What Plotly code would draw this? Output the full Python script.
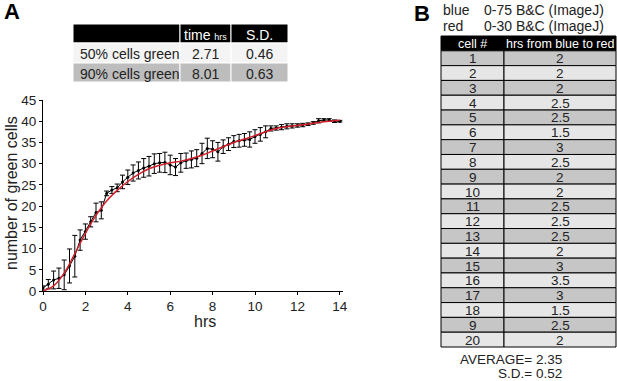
import plotly.graph_objects as go

# ---------------- data ----------------
hours = [i * 0.25 for i in range(57)]
green_cells = [0.7, 1.6, 2.6, 3.0, 3.8, 5.9, 8.2, 12.0, 14.0, 16.3, 18.5, 19.0,
               23.0, 23.8, 24.3, 25.7, 26.8, 27.8, 28.4, 29.0, 29.4, 30.0, 30.2, 30.3,
               29.7, 29.2, 30.2, 30.7, 31.0, 31.3, 32.4, 33.6, 33.4, 32.8, 34.0, 34.6,
               35.2, 35.4, 35.6, 35.7, 36.4, 36.9, 37.5, 38.3, 38.4, 38.6, 38.8, 38.9,
               39.0, 39.1, 39.3, 39.6, 40.1, 40.3, 40.3, 40.0, 40.0]
green_err = [0.5, 1.1, 2.1, 2.4, 3.5, 4.0, 4.9, 2.4, 1.8, 1.2, 2.2, 2.0,
             0.55, 0.8, 0.9, 1.6, 1.7, 1.9, 2.0, 2.2, 2.3, 2.3, 2.2, 2.4,
             2.3, 2.0, 2.2, 1.8, 2.0, 2.0, 2.4, 2.4, 2.0, 2.2, 1.6, 1.5,
             1.4, 1.5, 1.5, 1.8, 1.6, 1.6, 1.4, 0.6, 0.5, 0.6, 0.6, 0.5,
             0.4, 0.4, 0.3, 0.3, 0.5, 0.3, 0.3, 0.3, 0.2]

fit_hours = [i * 0.5 for i in range(29)]
fit_values = [0.0, 1.2, 4.2, 8.8, 13.6, 17.8, 21.2, 23.7, 25.8, 27.5, 28.8, 29.6,
              30.2, 30.6, 31.2, 32.0, 33.0, 34.0, 35.0, 35.8, 36.6, 37.5, 38.3,
              38.7, 39.0, 39.3, 39.7, 40.0, 40.2]

x_ticks = [0, 2, 4, 6, 8, 10, 12, 14]
y_ticks = [0, 5, 10, 15, 20, 25, 30, 35, 40, 45]

summary_header = ["", "time <span style='font-size:9px'>hrs</span>", "S.D."]
summary_rows = ["50% cells green", "90% cells green"]
summary_time = ["2.71", "8.01"]
summary_sd = ["0.46", "0.63"]

cell_header = ["cell #", "hrs from blue to red"]
cell_ids = ["1", "2", "3", "4", "5", "6", "7", "8", "9", "10",
            "11", "12", "13", "14", "15", "16", "17", "18", "9", "20"]
hrs_blue_to_red = ["2", "2", "2", "2.5", "2.5", "1.5", "3", "2.5", "2", "2",
                   "2.5", "2.5", "2.5", "2", "3", "3.5", "3", "1.5", "2.5", "2"]

W, H = 617, 381
FONT = "Liberation Sans, Arial, Helvetica, sans-serif"
TXT = "#222222"


def px(x):
    return x / W


def py(y):
    return 1 - y / H


fig = go.Figure()

fig.add_trace(go.Scatter(
    x=hours, y=green_cells, mode="lines+markers",
    line=dict(color="black", width=1),
    marker=dict(color="black", size=3),
    error_y=dict(type="data", array=green_err, color="black", thickness=1, width=2.5),
    showlegend=False))

fig.add_trace(go.Scatter(
    x=fit_hours, y=fit_values, mode="lines", line_shape="spline",
    line=dict(color="#d4202a", width=1.5),
    showlegend=False))

shapes = []
ann = []


def cell(x0, x1, y0, y1, fill, line_color, lw=1):
    shapes.append(dict(type="rect", xref="paper", yref="paper",
                       x0=px(x0), x1=px(x1), y0=py(y1), y1=py(y0),
                       fillcolor=fill, line=dict(color=line_color, width=lw),
                       layer="above"))


def text(t, x, y, size=14, color=TXT, anchor="center"):
    ann.append(dict(text=t, x=px(x), y=py(y), xref="paper", yref="paper",
                    xanchor=anchor, yanchor="middle", showarrow=False,
                    font=dict(size=size, color=color, family=FONT)))


# ---- summary table (panel A) ----
a_cols = [73, 180, 231, 288]
a_rows = [24, 43, 63, 82]
a_fill = ["#f4f4f4", "#bdbdbd"]
for c in range(3):
    cell(a_cols[c], a_cols[c + 1], a_rows[0], a_rows[1], "black", "white", 1)
    if summary_header[c]:
        text(summary_header[c], (a_cols[c] + a_cols[c + 1]) / 2, (a_rows[0] + a_rows[1]) / 2 + 1,
             size=14, color="white")
summary_cols = [summary_rows, summary_time, summary_sd]
for r in range(len(summary_rows)):
    for c in range(3):
        cell(a_cols[c], a_cols[c + 1], a_rows[r + 1], a_rows[r + 2], a_fill[r], "white", 1)
        yc = (a_rows[r + 1] + a_rows[r + 2]) / 2 + 1
        if c == 0:
            text(summary_cols[c][r], a_cols[0] + 5, yc, anchor="left")
        else:
            text(summary_cols[c][r], (a_cols[c] + a_cols[c + 1]) / 2, yc)

# ---- cell table (panel B) ----
b_cols = [441, 504, 616]
b_top, b_bot = 36, 347
n_rows = len(cell_ids) + 1
rh = (b_bot - b_top) / n_rows
for c in range(2):
    cell(b_cols[c], b_cols[c + 1], b_top, b_top + rh, "black", "black", 1)
    text(cell_header[c], (b_cols[c] + b_cols[c + 1]) / 2, b_top + rh / 2 + 0.5, size=12.5, color="white")
b_vals = [cell_ids, hrs_blue_to_red]
for r in range(len(cell_ids)):
    fill = "#c6c6c6" if r % 2 == 0 else "#e6e6e6"
    y0 = b_top + rh * (r + 1)
    for c in range(2):
        cell(b_cols[c], b_cols[c + 1], y0, y0 + rh, fill, "black", 1)
        text(b_vals[c][r], (b_cols[c] + b_cols[c + 1]) / 2, y0 + rh / 2 + 0.5, size=13.5)

# ---- free texts ----
text("<b>A</b>", 2, 12, size=22, color="black", anchor="left")
text("<b>B</b>", 412, 14, size=22, color="black", anchor="left")
text("blue", 441, 10, anchor="left")
text("0-75 B&C (ImageJ)", 482, 10, anchor="left")
text("red", 441, 26, anchor="left")
text("0-30 B&C (ImageJ)", 482, 26, anchor="left")
text("AVERAGE= 2.35", 564, 359, size=13.5, anchor="right")
text("S.D.= 0.52", 564, 373, size=13.5, anchor="right")
# axis titles
text("hrs", 205, 321, size=16)
ann.append(dict(text="number of green cells", x=px(12), y=py(193), xref="paper", yref="paper",
                xanchor="center", yanchor="middle", showarrow=False, textangle=-90,
                font=dict(size=16, color=TXT, family=FONT)))

axis_common = dict(showline=True, linecolor="black", linewidth=1, ticks="outside",
                   ticklen=3, tickcolor="black", showgrid=False, zeroline=False,
                   automargin=False,
                   tickfont=dict(size=13.5, color=TXT, family=FONT))

fig.update_layout(
    width=W, height=H, margin=dict(l=0, r=0, t=0, b=0, autoexpand=False),
    paper_bgcolor="white", plot_bgcolor="white",
    font=dict(family=FONT, color=TXT),
    xaxis=dict(domain=[px(43), px(343)], range=[0, 14.15], tickvals=x_ticks, **axis_common),
    yaxis=dict(domain=[py(291), py(100)], range=[0, 45], tickvals=y_ticks, **axis_common),
    shapes=shapes, annotations=ann,
)

fig.write_html("out.html", config={"displayModeBar": False},
               post_script="document.body.style.margin='0';document.body.style.overflow='hidden';")
